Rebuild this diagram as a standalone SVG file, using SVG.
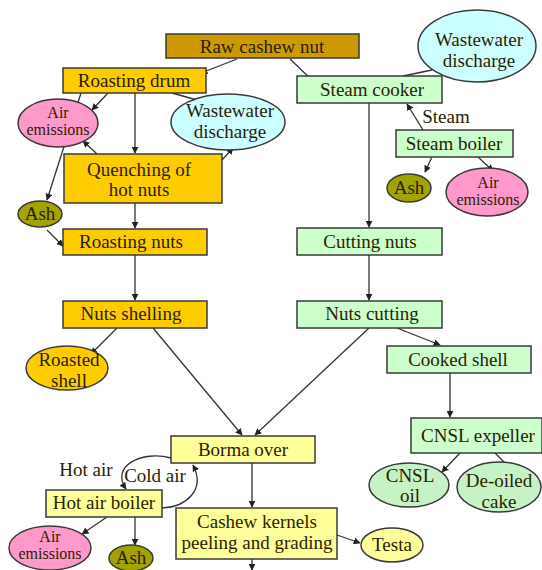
<svg xmlns="http://www.w3.org/2000/svg" width="542" height="570" viewBox="0 0 542 570">
<style>
text{font-family:"Liberation Serif","Times New Roman","DejaVu Serif",serif;font-size:19px;fill:#2a1e00;text-anchor:middle}
.sm{font-size:16px}
.b{stroke:#3a3a3a;stroke-width:1.5}
.c{stroke:#333;stroke-width:1.3;fill:none}
.a{marker-end:url(#ah)}
.gold{fill:#FFCC00}
.dgold{fill:#CC9900}
.grn{fill:#CCFFCC}
.cyan{fill:#CCFFFF}
.pink{fill:#FF99CC}
.olive{fill:#A3A300}
.ylw{fill:#FFFF99}
.lgrn{fill:#C6F2C6}
</style>
<defs>
<marker id="ah" viewBox="0 0 10 10" refX="9" refY="5" markerWidth="7" markerHeight="7" markerUnits="userSpaceOnUse" orient="auto">
<path d="M0,0 L10,5 L0,10 z" fill="#222"/>
</marker>
</defs>
<g id="connectors">
<line class="c a" x1="237" y1="59" x2="201" y2="73"/>
<line class="c a" x1="290" y1="59" x2="315" y2="83"/>
<line class="c a" x1="108" y1="93" x2="92" y2="110"/>
<line class="c a" x1="81" y1="93" x2="47" y2="200"/>
<line class="c a" x1="135" y1="93" x2="135" y2="153"/>
<line class="c" x1="172" y1="93" x2="197" y2="100"/>
<line class="c a" x1="97" y1="154" x2="83" y2="141"/>
<line class="c a" x1="222" y1="160" x2="233" y2="148"/>
<line class="c a" x1="135" y1="203" x2="135" y2="228"/>
<line class="c a" x1="47" y1="230" x2="63" y2="246"/>
<line class="c a" x1="135" y1="255" x2="135" y2="300"/>
<line class="c a" x1="117" y1="328" x2="91" y2="354"/>
<line class="c a" x1="153" y1="328" x2="242" y2="435"/>
<line class="c a" x1="369" y1="328" x2="255" y2="435"/>
<line class="c a" x1="397" y1="328" x2="440" y2="345"/>
<line class="c a" x1="369" y1="103" x2="369" y2="227"/>
<line class="c a" x1="369" y1="255" x2="369" y2="300"/>
<line class="c a" x1="450" y1="373" x2="450" y2="417"/>
<line class="c a" x1="460" y1="453" x2="442" y2="472"/>
<line class="c" x1="495" y1="453" x2="505" y2="463"/>
<line class="c a" x1="423" y1="130" x2="407" y2="104"/>
<line class="c a" x1="432" y1="157" x2="425" y2="172"/>
<line class="c a" x1="478" y1="157" x2="493" y2="171"/>
<line class="c" x1="403" y1="76" x2="432" y2="70"/>
<line class="c a" x1="252" y1="463" x2="252" y2="507"/>
<line class="c a" x1="337" y1="535" x2="360" y2="543"/>
<line class="c a" x1="252" y1="559" x2="252" y2="570"/>
<line class="c a" x1="107" y1="517" x2="82" y2="534"/>
<line class="c a" x1="135" y1="517" x2="135" y2="545"/>
<path class="c a" d="M171,458 C142,450 110,466 126,489"/>
<path class="c a" d="M162,508 C186,507 206,490 193,465"/>
</g>
<g id="raw"><rect class="b dgold" x="166" y="34" width="193" height="24"/><text x="262" y="53">Raw cashew nut</text></g>
<g id="roasting-drum"><rect class="b gold" x="63" y="68" width="143" height="25"/><text x="134" y="87">Roasting drum</text></g>
<g id="air1"><ellipse class="b pink" cx="58" cy="123" rx="40" ry="24"/><text class="sm" x="58" y="118">Air</text><text class="sm" x="58" y="135">emissions</text></g>
<g id="ww1"><ellipse class="b cyan" cx="228" cy="122" rx="57" ry="28"/><text x="230" y="117">Wastewater</text><text x="230" y="138">discharge</text></g>
<g id="quench"><rect class="b gold" x="64" y="154" width="158" height="49"/><text x="139" y="176">Quenching of</text><text x="139" y="196">hot nuts</text></g>
<g id="ash1"><ellipse class="b olive" cx="40" cy="214" rx="22" ry="13"/><text x="40" y="220">Ash</text></g>
<g id="roasting-nuts"><rect class="b gold" x="63" y="229" width="144" height="26"/><text x="131" y="248">Roasting nuts</text></g>
<g id="nuts-shelling"><rect class="b gold" x="63" y="301" width="144" height="27"/><text x="131" y="320">Nuts shelling</text></g>
<g id="roasted-shell"><ellipse class="b gold" cx="67" cy="368" rx="41" ry="22"/><text x="69" y="366">Roasted</text><text x="69" y="387">shell</text></g>
<g id="steam-cooker"><rect class="b grn" x="297" y="76" width="145" height="27"/><text x="372" y="96">Steam cooker</text></g>
<g id="ww2"><ellipse class="b cyan" cx="477" cy="46" rx="59" ry="36"/><text x="479" y="46">Wastewater</text><text x="479" y="67">discharge</text></g>
<text x="446" y="123">Steam</text>
<g id="steam-boiler"><rect class="b grn" x="396" y="130" width="117" height="27"/><text x="454" y="150">Steam boiler</text></g>
<g id="ash2"><ellipse class="b olive" cx="409" cy="188" rx="22" ry="14"/><text x="409" y="194">Ash</text></g>
<g id="air2"><ellipse class="b pink" cx="487" cy="192" rx="41" ry="24"/><text class="sm" x="488" y="188">Air</text><text class="sm" x="488" y="205">emissions</text></g>
<g id="cutting-nuts"><rect class="b grn" x="297" y="228" width="145" height="27"/><text x="370" y="248">Cutting nuts</text></g>
<g id="nuts-cutting"><rect class="b grn" x="297" y="301" width="145" height="27"/><text x="372" y="320">Nuts cutting</text></g>
<g id="cooked-shell"><rect class="b grn" x="387" y="346" width="144" height="27"/><text x="458" y="366">Cooked shell</text></g>
<g id="cnsl-expeller"><rect class="b grn" x="411" y="418" width="131" height="35"/><text x="478" y="442">CNSL expeller</text></g>
<g id="cnsl-oil"><ellipse class="b lgrn" cx="409" cy="485" rx="40" ry="22"/><text x="410" y="482">CNSL</text><text x="410" y="502">oil</text></g>
<g id="deoiled"><ellipse class="b lgrn" cx="499" cy="487" rx="42" ry="25"/><text x="499" y="487">De-oiled</text><text x="499" y="508">cake</text></g>
<g id="borma"><rect class="b ylw" x="171" y="436" width="144" height="27"/><text x="243" y="456">Borma over</text></g>
<g id="cashew-kernels"><rect class="b ylw" x="176" y="508" width="161" height="51"/><text x="257" y="528">Cashew kernels</text><text x="257" y="549">peeling and grading</text></g>
<g id="testa"><ellipse class="b ylw" cx="392" cy="545" rx="31" ry="17"/><text x="392" y="551">Testa</text></g>
<g id="hot-air-boiler"><rect class="b ylw" x="46" y="490" width="116" height="27"/><text x="104" y="509">Hot air boiler</text></g>
<text x="86" y="476">Hot air</text>
<text x="155" y="482">Cold air</text>
<g id="air3"><ellipse class="b pink" cx="50" cy="548" rx="41" ry="22"/><text class="sm" x="50" y="542">Air</text><text class="sm" x="50" y="559">emissions</text></g>
<g id="ash3"><ellipse class="b olive" cx="131" cy="558" rx="22" ry="13"/><text x="131" y="564">Ash</text></g>
</svg>
